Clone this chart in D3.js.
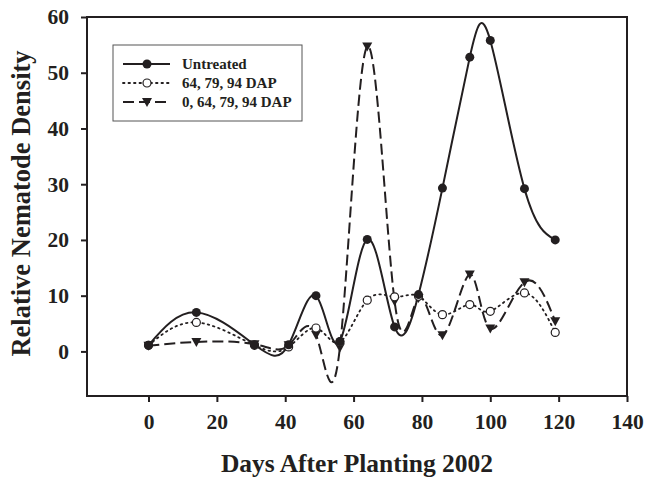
<!DOCTYPE html>
<html>
<head>
<meta charset="utf-8">
<script src="https://cdn.jsdelivr.net/npm/d3@7"></script>
<style>
  body { margin: 0; background: #fff; }
  text { font-family: "Liberation Serif", "Times New Roman", serif; font-weight: bold; fill: #231f20; }
</style>
</head>
<body>
<div id="chart"></div>
<script>
// days after planting (sampling dates)
const days = [0, 14, 31, 41, 49, 56, 64, 72, 79, 86, 94, 100, 110, 119];

// relative nematode density per treatment
const untreated = [1.1, 7, 1.2, 1.2, 10, 1.8, 20.1, 4.4, 10.2, 29.3, 52.8, 55.8, 29.2, 20];
const dap3 = [1.1, 5.2, 1.1, 0.8, 4.2, 1.7, 9.2, 9.8, 9.9, 6.6, 8.4, 7.2, 10.5, 3.4];
const dap4 = [1, 1.7, 1.3, 1.1, 3, 0.7, 54.7, 9, 9.6, 2.9, 13.8, 4.1, 12.4, 5.4];

const seriesNames = ["Untreated", "64, 79, 94 DAP", "0, 64, 79, 94 DAP"];
const xTicks = [0, 20, 40, 60, 80, 100, 120, 140];
const yTicks = [0, 10, 20, 30, 40, 50, 60];

const W = 646, H = 485;
const m = {left: 87, right: 627, top: 17, bottom: 396};
const ink = "#231f20";

const svg = d3.select("#chart").append("svg")
  .attr("width", W).attr("height", H);

const x = d3.scaleLinear().domain([-18, 140]).range([m.left, m.right]);
const y = d3.scaleLinear().domain([-8, 60]).range([m.bottom, m.top]);

// frame
svg.append("rect")
  .attr("x", m.left).attr("y", m.top)
  .attr("width", m.right - m.left).attr("height", m.bottom - m.top)
  .attr("fill", "none").attr("stroke", ink).attr("stroke-width", 2);

// axes
const xAxis = svg.append("g")
  .attr("transform", `translate(0,${m.bottom})`)
  .call(d3.axisBottom(x).tickValues(xTicks).tickSize(6).tickPadding(10));
const yAxis = svg.append("g")
  .attr("transform", `translate(${m.left},0)`)
  .call(d3.axisLeft(y).tickValues(yTicks).tickSize(6).tickPadding(12));
[xAxis, yAxis].forEach(g => {
  g.attr("font-family", null).attr("font-size", null);
  g.select(".domain").remove();
  g.selectAll("line").attr("stroke", ink).attr("stroke-width", 2);
  g.selectAll("text").attr("font-size", 21.5).attr("fill", ink);
});
xAxis.selectAll("text").attr("dy", "0.8em");

// axis titles
svg.append("text")
  .attr("x", (m.left + m.right) / 2).attr("y", 472)
  .attr("text-anchor", "middle").attr("font-size", 25.5)
  .text("Days After Planting 2002");
svg.append("text")
  .attr("transform", `translate(30,${(m.top + m.bottom) / 2 - 3}) rotate(-90)`)
  .attr("text-anchor", "middle").attr("font-size", 26.5)
  .text("Relative Nematode Density");

// series
const series = [
  {name: seriesNames[0], values: untreated, dash: null, width: 2, marker: "fill"},
  {name: seriesNames[1], values: dap3, dash: "1.5,4", width: 1.8, marker: "open"},
  {name: seriesNames[2], values: dap4, dash: "11,5", width: 2, marker: "tri"}
];

const line = d3.line()
  .x(d => x(d[0])).y(d => y(d[1]))
  .curve(d3.curveNatural);

series.forEach(s => {
  svg.append("path")
    .datum(days.map((d, i) => [d, s.values[i]]))
    .attr("d", line)
    .attr("fill", "none")
    .attr("stroke", ink)
    .attr("stroke-width", s.width)
    .attr("stroke-linecap", s.marker === "open" ? "round" : "butt")
    .attr("stroke-dasharray", s.dash);
});

function drawMarker(g, type, cx, cy) {
  if (type === "fill") {
    g.append("circle").attr("cx", cx).attr("cy", cy).attr("r", 4.5).attr("fill", ink);
  } else if (type === "open") {
    g.append("circle").attr("cx", cx).attr("cy", cy).attr("r", 4)
      .attr("fill", "#fff").attr("stroke", ink).attr("stroke-width", 1.2);
  } else {
    g.append("path")
      .attr("d", `M${cx - 5},${cy - 4}L${cx + 5},${cy - 4}L${cx},${cy + 5}Z`)
      .attr("fill", ink);
  }
}

// markers: triangles first, then open, then filled on top
[2, 1, 0].forEach(k => {
  const s = series[k];
  const g = svg.append("g");
  days.forEach((d, i) => drawMarker(g, s.marker, x(d), y(s.values[i])));
});

// legend
const lg = svg.append("g");
lg.append("rect")
  .attr("x", 113).attr("y", 45).attr("width", 189).attr("height", 76)
  .attr("fill", "#fff").attr("stroke", "#555").attr("stroke-width", 1);
series.forEach((s, i) => {
  const ly = 64 + i * 19;
  lg.append("line")
    .attr("x1", 123).attr("x2", 170).attr("y1", ly).attr("y2", ly)
    .attr("stroke", ink).attr("stroke-width", s.width)
    .attr("stroke-linecap", s.marker === "open" ? "round" : "butt")
    .attr("stroke-dasharray", s.dash);
  drawMarker(lg, s.marker, 147, ly);
  lg.append("text")
    .attr("x", 182).attr("y", ly + 5)
    .attr("font-size", 15)
    .text(s.name);
});
</script>
</body>
</html>
